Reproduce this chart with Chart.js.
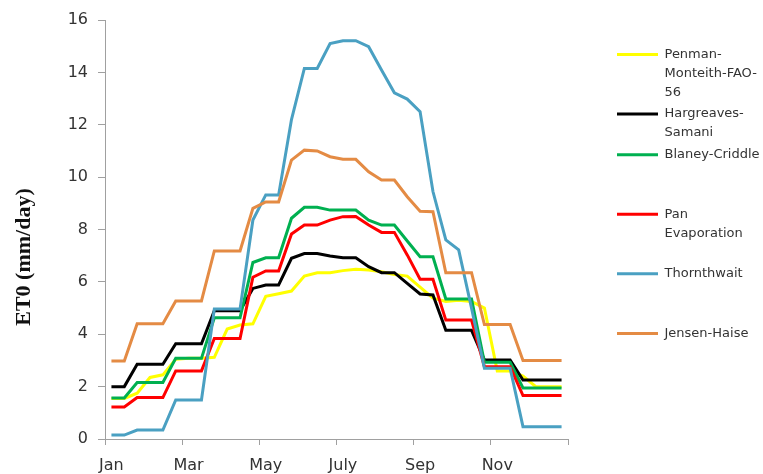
<!DOCTYPE html>
<html>
<head>
<meta charset="utf-8">
<script src="https://cdn.jsdelivr.net/npm/chart.js@4.4.1/dist/chart.umd.min.js"></script>
<style>
  html, body { margin: 0; padding: 0; background: #fff; }
  #wrap { width: 763px; height: 474px; }
</style>
</head>
<body>
<div id="wrap"><canvas id="etChart" width="763" height="474"></canvas></div>
<script>
// 10-day periods, three per month
const monthNames = ["Jan", "Feb", "Mar", "Apr", "May", "Jun", "Jul", "Aug", "Sep", "Oct", "Nov", "Dec"];
const tickLabels = ["Jan", "Mar", "May", "July", "Sep", "Nov"];
const categories = [];
monthNames.forEach(m => { for (let d = 1; d <= 3; d++) categories.push(m + " " + d); });

const penman = [1.55, 1.55, 1.75, 2.35, 2.45, 3.05, 3.08, 3.08, 3.12, 4.2, 4.35, 4.4, 5.45, 5.55, 5.65, 6.22, 6.35, 6.35,
  6.43, 6.48, 6.45, 6.39, 6.28, 6.22, 5.8, 5.38, 5.25, 5.3, 5.25, 5.0, 2.6, 2.6, 2.4, 2.0, 2.0, 2.0];
const hargreaves = [2.0, 2.0, 2.85, 2.85, 2.85, 3.64, 3.64, 3.64, 4.9, 4.9, 4.9, 5.75, 5.88, 5.88, 6.9, 7.08, 7.08, 6.99,
  6.92, 6.92, 6.58, 6.35, 6.35, 5.94, 5.54, 5.5, 4.15, 4.15, 4.15, 3.02, 3.02, 3.02, 2.25, 2.25, 2.25, 2.25];
const blaney = [1.57, 1.57, 2.16, 2.16, 2.16, 3.08, 3.08, 3.08, 4.63, 4.63, 4.63, 6.74, 6.92, 6.92, 8.43, 8.85, 8.85, 8.74,
  8.74, 8.74, 8.36, 8.17, 8.17, 7.56, 6.96, 6.96, 5.35, 5.35, 5.35, 2.93, 2.93, 2.93, 1.95, 1.95, 1.95, 1.95];
const pan = [1.22, 1.22, 1.58, 1.58, 1.58, 2.6, 2.6, 2.6, 3.84, 3.84, 3.84, 6.18, 6.42, 6.42, 7.83, 8.17, 8.17, 8.36,
  8.49, 8.5, 8.17, 7.89, 7.89, 7.03, 6.1, 6.1, 4.54, 4.54, 4.54, 2.76, 2.76, 2.76, 1.66, 1.66, 1.66, 1.66];
const thornthwait = [0.15, 0.15, 0.34, 0.34, 0.34, 1.49, 1.49, 1.49, 4.96, 4.96, 4.96, 8.36, 9.32, 9.32, 12.2, 14.15, 14.15, 15.1,
  15.21, 15.21, 14.98, 14.09, 13.22, 12.98, 12.5, 9.45, 7.6, 7.22, 5.0, 2.7, 2.7, 2.7, 0.47, 0.47, 0.47, 0.47];
const jensen = [2.98, 2.98, 4.4, 4.4, 4.4, 5.27, 5.27, 5.27, 7.18, 7.18, 7.18, 8.81, 9.05, 9.05, 10.65, 11.03, 11.0, 10.78,
  10.68, 10.68, 10.2, 9.89, 9.89, 9.25, 8.7, 8.68, 6.35, 6.35, 6.35, 4.37, 4.37, 4.37, 3.0, 3.0, 3.0, 3.0];

const seriesNames = ["Penman-Monteith-FAO-56", "Hargreaves-Samani", "Blaney-Criddle", "Pan Evaporation", "Thornthwait", "Jensen-Haise"];
const seriesColors = ["#FFFF00", "#000000", "#00B050", "#FF0000", "#4AA0C2", "#E48B44"];
// legend text broken the way the original wraps it (blank lines keep the spacing)
const legendText = [
  ["Penman-", "Monteith-FAO-", "56"],
  ["Hargreaves-", "Samani"],
  ["Blaney-Criddle", "", ""],
  ["Pan", "Evaporation", ""],
  ["Thornthwait", "", ""],
  ["Jensen-Haise"]
];

const seriesData = [penman, hargreaves, blaney, pan, thornthwait, jensen];
const datasets = seriesData.map((d, i) => ({
  label: seriesNames[i],
  data: d,
  borderColor: seriesColors[i],
  backgroundColor: seriesColors[i],
  borderWidth: 3,
  pointRadius: 0,
  tension: 0,
  fill: false,
  order: seriesData.length - i
}));

const axisColor = "#a0a0a0";
const tickFont = { family: "DejaVu Sans", size: 16 };

// layout caps side boxes at a share of the width; give the legend the room it needs
const legendWidth = {
  id: "legendWidth",
  beforeLayout(chart) {
    const lg = chart.legend;
    if (lg && !lg.$wide) {
      const fit = lg.fit.bind(lg);
      lg.fit = function () { fit(); this.width = 149; };
      lg.$wide = true;
    }
  }
};

new Chart(document.getElementById("etChart"), {
  type: "line",
  data: { labels: categories, datasets: datasets },
  plugins: [legendWidth],
  options: {
    responsive: false,
    animation: false,
    layout: { padding: { top: 20, right: 0, bottom: 0, left: 0 } },
    plugins: {
      tooltip: { enabled: false },
      legend: {
        position: "right",
        align: "start",
        title: { display: true, text: "", font: { size: 1, lineHeight: 1 }, padding: { top: 24, bottom: 0 } },
        labels: {
          usePointStyle: true,
          pointStyle: "line",
          pointStyleWidth: 41,
          boxHeight: 13,
          padding: 3,
          color: "#333",
          font: { family: "DejaVu Sans", size: 13, lineHeight: 1.45 },
          sort: (a, b) => a.datasetIndex - b.datasetIndex,
          generateLabels: chart => Chart.defaults.plugins.legend.labels.generateLabels(chart)
            .map(item => Object.assign(item, { text: legendText[item.datasetIndex] }))
        }
      }
    },
    scales: {
      x: {
        offset: true,
        border: { color: axisColor },
        grid: {
          offset: true,
          drawOnChartArea: false,
          tickLength: 6,
          color: ctx => (ctx.type !== "tick" || ctx.index % 6 === 0) ? axisColor : "rgba(0,0,0,0)"
        },
        ticks: {
          autoSkip: false,
          maxRotation: 0,
          padding: 11,
          color: "#333",
          font: tickFont,
          callback: (v, i) => i % 6 === 0 ? tickLabels[i / 6] : ""
        },
        afterFit: s => { s.height = 35; }
      },
      y: {
        min: 0,
        max: 16,
        border: { color: axisColor },
        grid: { drawOnChartArea: false, tickLength: 7, color: axisColor },
        ticks: { stepSize: 2, padding: 10, color: "#333", font: tickFont },
        title: {
          display: true,
          // trailing no-break spaces push the label down to where the original sits
          text: "ET0 (mm/day)\u00a0\u00a0\u00a0\u00a0\u00a0\u00a0\u00a0\u00a0\u00a0\u00a0",
          color: "#111",
          font: { family: "Liberation Serif", size: 22, weight: "bold" },
          padding: { top: 11, bottom: 0 }
        },
        afterFit: s => { s.width = 105; }
      },
      gap: {
        type: "linear",
        axis: "y",
        position: "right",
        grid: { display: false },
        border: { display: false },
        ticks: { display: false },
        afterFit: s => { s.width = 46; }
      }
    }
  }
});
</script>
</body>
</html>
